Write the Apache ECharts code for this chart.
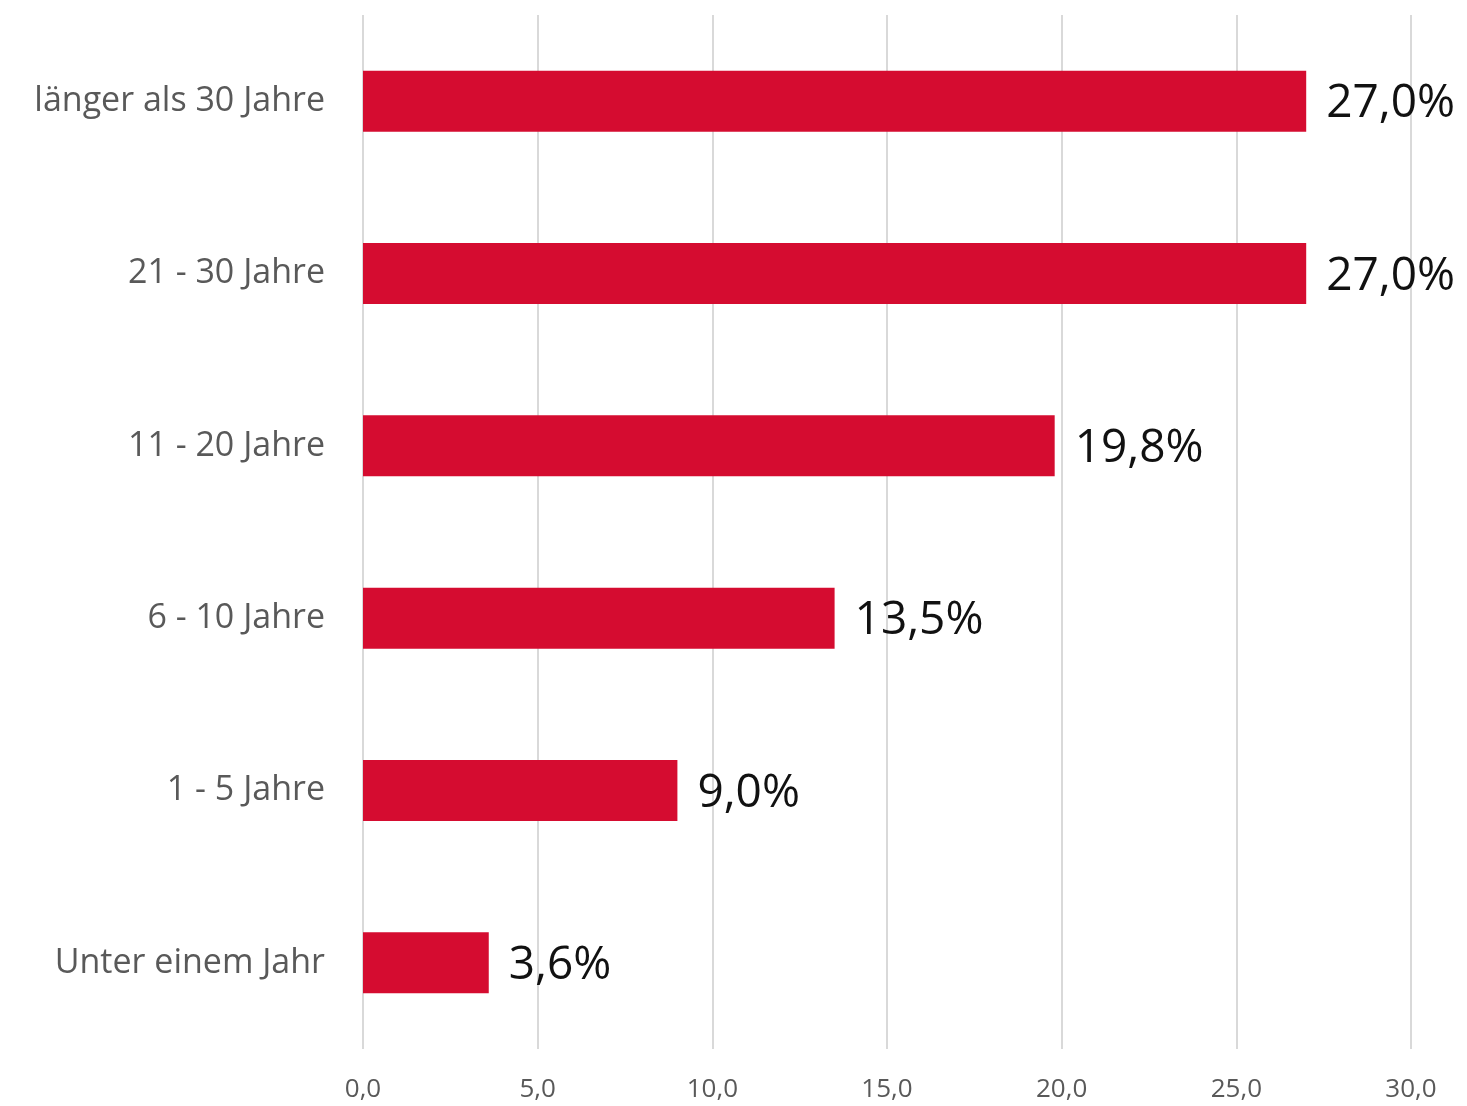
<!DOCTYPE html>
<html>
<head>
<meta charset="utf-8">
<script src="https://cdn.jsdelivr.net/npm/echarts@6/dist/echarts.min.js"></script>
<style>
  html, body { margin: 0; padding: 0; background: #ffffff; }
  #chart { width: 1467px; height: 1106px; }
</style>
</head>
<body>
<div id="chart"></div>
<script>
// Categories listed bottom to top (category axis grows upward)
const categories = ['Unter einem Jahr', '1 - 5 Jahre', '6 - 10 Jahre', '11 - 20 Jahre', '21 - 30 Jahre', 'länger als 30 Jahre'];
const shares = [3.6, 9.0, 13.5, 19.8, 27.0, 27.0];
const xTicks = { min: 0, max: 30, interval: 5 };

const fmt = v => v.toFixed(1).replace('.', ',');

const chart = echarts.init(document.getElementById('chart'), null, { renderer: 'canvas' });
chart.setOption({
  backgroundColor: '#ffffff',
  animation: false,
  grid: { left: 363, right: 56, top: 15, bottom: 57, containLabel: false },
  xAxis: {
    type: 'value',
    min: xTicks.min,
    max: xTicks.max,
    interval: xTicks.interval,
    axisLine: { show: false },
    axisTick: { show: false },
    splitLine: { show: true, lineStyle: { color: '#d9d9d9', width: 2 } },
    axisLabel: {
      margin: 28,
      color: '#595959',
      fontFamily: 'Open Sans',
      fontSize: 26,
      formatter: v => fmt(v)
    }
  },
  yAxis: {
    type: 'category',
    data: categories,
    axisLine: { show: false },
    axisTick: { show: false },
    axisLabel: {
      margin: 38,
      color: '#595959',
      fontFamily: 'Open Sans',
      fontSize: 34
    }
  },
  series: [{
    type: 'bar',
    data: shares,
    barWidth: 61,
    itemStyle: { color: '#d50c30' },
    label: {
      show: true,
      position: 'right',
      distance: 20,
      offset: [0, 3],
      color: '#111111',
      fontFamily: 'Open Sans',
      fontSize: 46,
      formatter: p => fmt(p.value) + '%'
    }
  }]
});
</script>
</body>
</html>
